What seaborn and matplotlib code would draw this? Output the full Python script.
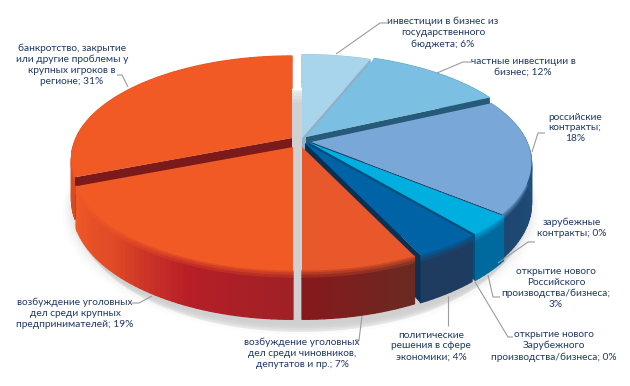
import numpy as np
import matplotlib
matplotlib.use("Agg")
import matplotlib.pyplot as plt
from matplotlib.transforms import Transform, Affine2D
from matplotlib.collections import PolyCollection
from matplotlib.patches import Polygon
import seaborn as sns

labels = ["инвестиции в бизнес из\nгосударственного\nбюджета; 6%",
          "частные инвестиции в\nбизнес; 12%",
          "российские\nконтракты;\n18%",
          "зарубежные\nконтракты; 0%",
          "открытие нового\nРоссийского\nпроизводства/бизнеса;\n3%",
          "открытие нового\nЗарубежного\nпроизводства/бизнеса; 0%",
          "политические\nрешения в сфере\nэкономики; 4%",
          "возбуждение уголовных\nдел среди чиновников,\nдепутатов и пр.; 7%",
          "возбуждение уголовных\nдел среди крупных\nпредпринимателей; 19%",
          "банкротство, закрытие\nили другие проблемы у\nкрупных игроков в\nрегионе; 31%"]
values = [6, 12, 18, 0, 3, 0, 4, 7, 19, 31]
top_colors = ["#A9D5EC", "#7BBFE2", "#79A8D8", "#00AEE0", "#00AEE0", "#0063A5", "#0063A5",
              "#E8582A", "#F15A24", "#F15A24"]
rim_colors = [["#8DB1C6"], ["#2A6A8E"], ["#1E466F", "#1F4E7C", "#2F6A9E"], ["#006A9E"],
              ["#006A9E"], ["#1D3C60"], ["#1D3C60"], ["#86191C", "#6A2A22"],
              ["#F05A28", "#E04A26", "#B71F27", "#A02026"], ["#D84A20"]]
inner_colors = ["#8DB1C6", "#265A78", "#1B3A5E", "#006A9E", "#00517F", "#0A2A4A", "#0F2F50",
                "#7B1A1A", "#7B1A1A", "#7B1A1A"]
hub_offset = [(-1, -2), (3, -3), (8, 2), (0, 0), (5, 2), (0, 0), (2, 3), (-1, 7), (-10, 7), (-11, -2)]
hub_radius = [0.98, 0.98, 0.96, 1, 0.98, 1, 0.98, 0.96, 0.96, 0.96]
draw_order = [9, 0, 1, 2, 4, 6, 7, 8]
label_xy = [(443, 33), (523, 67), (575, 128), (572, 228), (556, 288), (554, 346), (431, 346),
            (302, 353), (75, 313), (72, 65)]
leaders = [[(336, 54), (380, 23), (387, 23)], [(437, 73), (463, 62), (472, 62)],
           [(532, 152), (538, 133), (545, 133)], [(498, 263), (528, 242), (535, 242)],
           [(488, 275), (493, 297), (500, 297)], [(475, 282), (508, 337), (513, 337)],
           [(448, 296), (448, 326)], [(362, 316), (359, 340), (355, 340)],
           [(152, 296), (139, 303), (132, 303)], [(128, 87), (122, 75), (117, 75)]]

CX, CY, A, B, P, DEPTH = 303.0, 140.0, 225.0, 102.7, 0.21, 39.0


def project(u, v, d=0.0):
    w = 1 + P * v
    return CX + A * u / w, CY + (-B * v + d) / w


class Perspective(Transform):
    input_dims = output_dims = 2

    def transform_non_affine(self, values):
        xy = np.asarray(values, dtype=float)
        x, y = project(xy[:, 0], xy[:, 1])
        return np.column_stack([x, y])


sns.set_theme(style="white")
plt.rcParams["font.family"] = ["Lato", "Noto Sans", "DejaVu Sans"]

fig = plt.figure(figsize=(6.30, 3.86), dpi=100)
ax = fig.add_axes([0, 0, 1, 1])

wedges, _ = ax.pie(values, startangle=90, counterclock=False, colors=top_colors,
                   wedgeprops={"linewidth": 0})
ax.set_aspect("auto")
ax.set_xlim(0, 630)
ax.set_ylim(386, 0)
ax.axis("off")

# soft shadow below the pie, seen through the gaps and around the rim
th = np.linspace(0, 2 * np.pi, 240)
for r, extra, alpha in [(1.035, 7, .05), (1.025, 6, .07), (1.015, 5, .10), (1.005, 4, .14),
                        (0.995, 6, .18), (0.985, 9, .22), (0.975, 12, .28), (0.965, 15, .35)]:
    u, v = r * np.cos(th), r * np.sin(th)
    x, y = project(u, v, DEPTH + extra)
    ax.add_patch(Polygon(np.column_stack([x - 2, y]), closed=True, fc="#C6C6C6", ec="none",
                         alpha=alpha, zorder=1))

persp = Perspective()
for z, i in enumerate(draw_order):
    w = wedges[i]
    dx, dy = hub_offset[i]
    r = hub_radius[i]
    t1, t2 = w.theta1, w.theta2
    n = max(6, int((t2 - t1) / 1.5))
    ts = np.radians(np.linspace(t1, t2, n + 1))
    pal = sns.blend_palette(rim_colors[i] * (2 if len(rim_colors[i]) == 1 else 1), n)
    tu, tv = r * np.cos(ts), r * np.sin(ts)
    x0, y0 = project(tu, tv, 0)
    x1, y1 = project(tu, tv, DEPTH)
    quads, cols = [], []
    top_rgb = np.array(matplotlib.colors.to_rgb(top_colors[i]))
    rows = [0, .05, .10, .16, 1]
    mix = [.75, .5, .25, 0]
    for k in range(n):
        base = np.array(pal[k])
        for a0, a1, m in zip(rows[:-1], rows[1:], mix):
            q = [(x0[k] + (x1[k] - x0[k]) * a0 + dx, y0[k] + (y1[k] - y0[k]) * a0 + dy),
                 (x0[k + 1] + (x1[k + 1] - x0[k + 1]) * a0 + dx, y0[k + 1] + (y1[k + 1] - y0[k + 1]) * a0 + dy),
                 (x0[k + 1] + (x1[k + 1] - x0[k + 1]) * a1 + dx, y0[k + 1] + (y1[k + 1] - y0[k + 1]) * a1 + dy),
                 (x0[k] + (x1[k] - x0[k]) * a1 + dx, y0[k] + (y1[k] - y0[k]) * a1 + dy)]
            quads.append(q)
            cols.append(tuple(top_rgb * m + base * (1 - m)))
    ax.add_collection(PolyCollection(quads, facecolors=cols, edgecolors=cols, linewidths=0.9,
                                     zorder=2 + z))
    # the straight side of the slice that faces the viewer
    mid = (t1 + t2) / 2
    edge = np.radians(t1 if -90 <= ((mid + 90) % 360) - 90 < 90 else t2)
    eu, ev = r * np.cos(edge), r * np.sin(edge)
    xa, ya = project(0.0, 0.0, 0)
    xb, yb = project(eu, ev, 0)
    xc, yc = project(eu, ev, DEPTH)
    xd, yd = project(0.0, 0.0, DEPTH)
    ax.add_patch(Polygon([(xa + dx, ya + dy), (xb + dx, yb + dy), (xc + dx, yc + dy), (xd + dx, yd + dy)],
                         closed=True, fc=inner_colors[i], ec="none", zorder=2 + z))
    w.set_radius(r)
    w.set_transform(persp + Affine2D().translate(dx, dy) + ax.transData)
    w.set_zorder(2 + z + 0.5)
for i in (3, 5):
    wedges[i].set_visible(False)

for pts in leaders:
    xs, ys = zip(*pts)
    ax.plot(xs, ys, color="#9C9C9C", lw=0.8, zorder=30, solid_capstyle="butt")
for (x, y), s in zip(label_xy, labels):
    ax.text(x, y, s, ha="center", va="center", fontsize=7.25, color="#1F3864",
            linespacing=1.28, zorder=31)

fig.savefig("out.png", dpi=100)
